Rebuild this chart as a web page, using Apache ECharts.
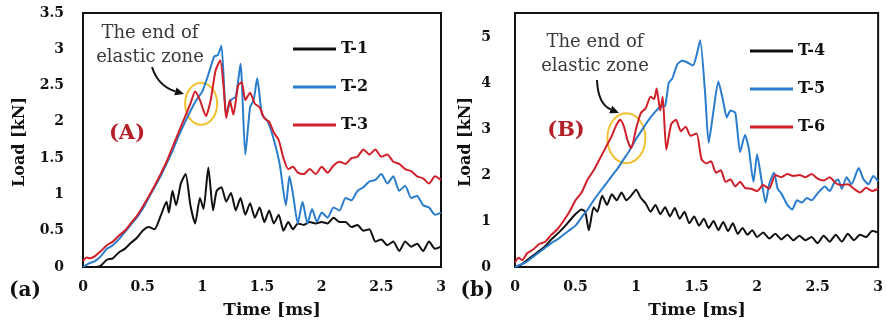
<!DOCTYPE html>
<html>
<head>
<meta charset="utf-8">
<script src="https://cdn.jsdelivr.net/npm/echarts@6/dist/echarts.min.js"></script>
<style>
html,body{margin:0;padding:0;background:#fff;}
#chart{width:886px;height:326px;}
</style>
</head>
<body>
<div id="chart"></div>
<script>
// ---- Data (time [ms], load [kN]) ----
const xTicksLeft = [0, 0.5, 1, 1.5, 2, 2.5, 3];
const yTicksLeft = [0, 0.5, 1, 1.5, 2, 2.5, 3, 3.5];
const yTicksRight = [0, 1, 2, 3, 4, 5];
const legendLeft = ['T-1', 'T-2', 'T-3'];
const legendRight = ['T-4', 'T-5', 'T-6'];

const T1 = [[0,0],[0.05,0],[0.1,0],[0.15,0.02],[0.2,0.1],[0.25,0.12],[0.3,0.2],[0.35,0.25],[0.4,0.33],[0.45,0.4],[0.5,0.5],[0.55,0.55],[0.6,0.52],[0.65,0.7],[0.7,0.9],[0.72,0.75],[0.75,1.05],[0.78,0.85],[0.82,1.15],[0.86,1.28],[0.9,0.85],[0.94,0.6],[0.98,0.95],[1.01,0.8],[1.05,1.37],[1.09,0.78],[1.12,1.05],[1.16,1.1],[1.2,0.9],[1.24,1.02],[1.28,0.78],[1.32,0.95],[1.36,0.72],[1.4,0.88],[1.44,0.68],[1.48,0.82],[1.52,0.62],[1.56,0.78],[1.6,0.6],[1.64,0.72],[1.68,0.5],[1.72,0.62],[1.76,0.52],[1.8,0.6],[1.85,0.58],[1.9,0.62],[1.95,0.6],[2.0,0.62],[2.05,0.6],[2.1,0.68],[2.15,0.62],[2.2,0.62],[2.25,0.55],[2.3,0.58],[2.35,0.5],[2.4,0.52],[2.45,0.35],[2.5,0.38],[2.55,0.3],[2.6,0.35],[2.65,0.22],[2.7,0.35],[2.75,0.28],[2.8,0.32],[2.85,0.22],[2.9,0.35],[2.95,0.25],[3.0,0.28]];
const T2 = [[0,0],[0.05,0.05],[0.1,0.08],[0.15,0.15],[0.2,0.25],[0.25,0.3],[0.3,0.38],[0.35,0.48],[0.4,0.58],[0.45,0.68],[0.5,0.8],[0.55,0.95],[0.6,1.1],[0.65,1.25],[0.7,1.42],[0.75,1.6],[0.8,1.8],[0.85,1.98],[0.9,2.15],[0.95,2.3],[1.0,2.42],[1.05,2.65],[1.1,2.9],[1.13,2.92],[1.16,3.05],[1.2,2.1],[1.24,2.3],[1.28,2.35],[1.32,2.8],[1.36,1.55],[1.4,2.2],[1.43,2.3],[1.46,2.6],[1.5,2.1],[1.55,2.0],[1.6,1.75],[1.65,1.4],[1.7,0.85],[1.73,1.25],[1.76,1.0],[1.8,0.6],[1.84,0.9],[1.88,0.6],[1.92,0.8],[1.96,0.62],[2.0,0.75],[2.05,0.68],[2.1,0.82],[2.15,0.78],[2.2,0.95],[2.25,0.92],[2.3,1.05],[2.35,1.1],[2.4,1.18],[2.45,1.2],[2.5,1.28],[2.55,1.15],[2.6,1.25],[2.65,1.05],[2.7,1.12],[2.75,0.95],[2.8,0.98],[2.85,0.85],[2.9,0.82],[2.95,0.72],[3.0,0.75]];
const T3 = [[0,0.08],[0.03,0.13],[0.06,0.12],[0.1,0.15],[0.15,0.22],[0.2,0.3],[0.25,0.35],[0.3,0.43],[0.35,0.5],[0.4,0.6],[0.45,0.7],[0.5,0.83],[0.55,0.97],[0.6,1.12],[0.65,1.28],[0.7,1.45],[0.75,1.65],[0.8,1.85],[0.85,2.05],[0.9,2.25],[0.94,2.42],[0.98,2.3],[1.03,2.08],[1.07,2.3],[1.11,2.7],[1.15,2.85],[1.18,2.45],[1.2,2.05],[1.23,2.3],[1.26,2.1],[1.3,2.5],[1.33,2.55],[1.36,2.3],[1.4,2.4],[1.44,2.25],[1.48,2.2],[1.52,2.05],[1.56,2.0],[1.6,1.85],[1.64,1.75],[1.68,1.5],[1.72,1.35],[1.76,1.38],[1.8,1.3],[1.85,1.28],[1.9,1.35],[1.95,1.28],[2.0,1.38],[2.05,1.3],[2.1,1.4],[2.15,1.45],[2.2,1.42],[2.25,1.5],[2.3,1.52],[2.35,1.62],[2.4,1.55],[2.45,1.62],[2.5,1.52],[2.55,1.55],[2.6,1.45],[2.65,1.42],[2.7,1.35],[2.75,1.32],[2.8,1.25],[2.85,1.22],[2.9,1.15],[2.95,1.25],[3.0,1.2]];
const T4 = [[0,0],[0.05,0.05],[0.1,0.15],[0.15,0.25],[0.2,0.35],[0.25,0.45],[0.3,0.6],[0.35,0.72],[0.4,0.85],[0.45,1.0],[0.5,1.15],[0.55,1.25],[0.58,1.2],[0.61,0.8],[0.65,1.3],[0.68,1.2],[0.72,1.55],[0.76,1.35],[0.8,1.58],[0.84,1.45],[0.88,1.62],[0.92,1.45],[0.96,1.55],[1.0,1.68],[1.04,1.5],[1.08,1.38],[1.12,1.2],[1.16,1.35],[1.2,1.15],[1.24,1.3],[1.28,1.1],[1.32,1.28],[1.36,1.05],[1.4,1.2],[1.44,0.95],[1.48,1.1],[1.52,0.9],[1.56,1.05],[1.6,0.85],[1.64,1.0],[1.68,0.8],[1.72,0.98],[1.76,0.78],[1.8,0.95],[1.84,0.72],[1.88,0.85],[1.92,0.7],[1.96,0.8],[2.0,0.65],[2.05,0.75],[2.1,0.62],[2.15,0.72],[2.2,0.6],[2.25,0.7],[2.3,0.58],[2.35,0.68],[2.4,0.58],[2.45,0.65],[2.5,0.52],[2.55,0.68],[2.6,0.55],[2.65,0.7],[2.7,0.55],[2.75,0.72],[2.8,0.58],[2.85,0.7],[2.9,0.65],[2.95,0.78],[3.0,0.75]];
const T5 = [[0,0],[0.05,0.05],[0.1,0.12],[0.15,0.22],[0.2,0.32],[0.25,0.42],[0.3,0.52],[0.35,0.6],[0.4,0.7],[0.45,0.8],[0.5,0.9],[0.55,1.08],[0.6,1.25],[0.65,1.45],[0.7,1.63],[0.75,1.8],[0.8,1.98],[0.85,2.15],[0.9,2.35],[0.95,2.55],[1.0,2.78],[1.05,2.98],[1.1,3.18],[1.15,3.35],[1.2,3.48],[1.24,3.5],[1.27,4.0],[1.3,4.1],[1.34,4.4],[1.38,4.48],[1.42,4.45],[1.47,4.38],[1.5,4.6],[1.53,4.93],[1.57,3.8],[1.6,2.7],[1.64,3.4],[1.68,4.03],[1.72,3.6],[1.75,3.25],[1.78,3.4],[1.82,3.35],[1.86,2.5],[1.9,2.87],[1.93,2.6],[1.97,1.85],[2.0,2.45],[2.03,2.0],[2.07,1.4],[2.1,1.8],[2.14,2.05],[2.17,1.7],[2.2,1.6],[2.25,1.35],[2.29,1.25],[2.33,1.45],[2.37,1.4],[2.41,1.5],[2.45,1.45],[2.5,1.6],[2.56,1.75],[2.6,1.65],[2.64,1.85],[2.67,1.9],[2.7,1.7],[2.74,1.95],[2.78,1.8],[2.84,2.15],[2.88,1.9],[2.92,1.8],[2.96,1.98],[3.0,1.86]];
const T6 = [[0,0.1],[0.03,0.2],[0.06,0.15],[0.1,0.3],[0.15,0.38],[0.2,0.5],[0.25,0.55],[0.3,0.7],[0.35,0.82],[0.4,1.0],[0.45,1.2],[0.5,1.45],[0.55,1.62],[0.6,1.9],[0.65,2.1],[0.7,2.35],[0.75,2.6],[0.8,2.85],[0.84,3.1],[0.87,3.2],[0.9,3.05],[0.93,2.75],[0.96,2.58],[1.0,3.0],[1.04,3.35],[1.08,3.45],[1.12,3.7],[1.15,3.65],[1.17,3.88],[1.2,3.4],[1.22,3.7],[1.25,2.55],[1.29,3.1],[1.33,3.2],[1.37,2.95],[1.41,3.05],[1.45,2.85],[1.5,2.9],[1.54,2.35],[1.58,2.25],[1.62,2.3],[1.66,2.05],[1.7,2.1],[1.74,1.85],[1.78,1.9],[1.82,1.75],[1.86,1.85],[1.9,1.72],[1.95,1.7],[2.0,1.65],[2.05,1.78],[2.1,1.7],[2.15,2.0],[2.2,1.95],[2.25,2.02],[2.3,1.98],[2.35,2.0],[2.4,1.95],[2.45,2.02],[2.5,1.92],[2.55,1.88],[2.6,1.95],[2.65,1.82],[2.7,1.78],[2.75,1.8],[2.8,1.7],[2.85,1.62],[2.9,1.72],[2.95,1.65],[3.0,1.7]];

// elastic-zone annotation centres (data coords)
const ellipseLeft = [0.99, 2.25];
const ellipseRight = [0.92, 2.8];

// ---- Chart ----
const FONT = 'DejaVu Serif';
const BLACK = '#111111', BLUE = '#2a7dcc', RED = '#d11f29', DARKRED = '#b3202a';
const chart = echarts.init(document.getElementById('chart'), null, {renderer: 'canvas'});

function xAxis(gridIndex) {
  return {
    type: 'value', gridIndex, min: 0, max: 3, interval: 0.5,
    axisLine: {show: true, onZero: false, lineStyle: {color: '#111', width: 2}},
    axisTick: {show: false}, splitLine: {show: false},
    axisLabel: {margin: 13, fontFamily: FONT, fontWeight: 'bold', fontSize: 14, color: '#111'}
  };
}
function yAxis(gridIndex, max, interval, margin) {
  return {
    type: 'value', gridIndex, min: 0, max, interval,
    axisLine: {show: true, lineStyle: {color: '#111', width: 2}},
    axisTick: {show: false}, splitLine: {show: false},
    axisLabel: {margin, fontFamily: FONT, fontWeight: 'bold', fontSize: 14, color: '#111',
      formatter: v => (Math.abs(v / interval - Math.round(v / interval)) < 1e-6) ? String(+v.toFixed(2)) : ''}
  };
}
function line(name, data, color, idx) {
  return {
    name, type: 'line', data, xAxisIndex: idx, yAxisIndex: idx,
    showSymbol: false, symbol: 'none', smooth: 0.2,
    lineStyle: {color, width: 2}, itemStyle: {color}, animation: false
  };
}
function legend(data, left, top) {
  return {
    data, orient: 'vertical', left, top, padding: 0, icon: 'rect', itemWidth: 43, itemHeight: 3, itemGap: 18,
    textStyle: {fontFamily: FONT, fontWeight: 'bold', fontSize: 16, color: '#111', lineHeight: 20},
    selectedMode: false
  };
}
function txt(text, x, y, size, weight, color, extra) {
  return Object.assign({
    type: 'text', x, y, silent: true,
    style: {text, fontFamily: FONT, fontSize: size, fontWeight: weight, fill: color,
      align: 'center', verticalAlign: 'middle', lineHeight: 24}
  }, extra || {});
}
function arrow(x1, y1, cx, cy, x2, y2) {
  const dx = x2 - cx, dy = y2 - cy, L = Math.hypot(dx, dy);
  const ux = dx / L, uy = dy / L, len = 9, w = 4;
  const bx = x2 - ux * len, by = y2 - uy * len;
  return [
    {type: 'bezierCurve', silent: true, shape: {x1, y1, x2: bx, y2: by, cpx1: cx, cpy1: cy},
      style: {stroke: '#111', lineWidth: 2, fill: null}},
    {type: 'polygon', silent: true, shape: {points: [[x2, y2], [bx - uy * w, by + ux * w], [bx + uy * w, by - ux * w]]},
      style: {fill: '#111'}}
  ];
}

const option = {
  backgroundColor: '#ffffff',
  animation: false,
  grid: [
    {left: 83, top: 13, width: 358, height: 254, show: true, borderColor: '#111', borderWidth: 2, containLabel: false},
    {left: 515, top: 13, width: 365, height: 254, show: true, borderColor: '#111', borderWidth: 2, containLabel: false}
  ],
  xAxis: [xAxis(0), xAxis(1)],
  yAxis: [yAxis(0, 3.5, 0.5, 19), yAxis(1, 5.52, 1, 24)],
  legend: [legend(legendLeft, 293, 39), legend(legendRight, 750, 41)],
  series: [
    line('T-1', T1, BLACK, 0), line('T-2', T2, BLUE, 0), line('T-3', T3, RED, 0),
    line('T-4', T4, BLACK, 1), line('T-5', T5, BLUE, 1), line('T-6', T6, RED, 1)
  ],
  graphic: []
};
chart.setOption(option);

const pL = chart.convertToPixel({gridIndex: 0}, ellipseLeft);
const pR = chart.convertToPixel({gridIndex: 1}, ellipseRight);

const graphics = [
  txt('Load [kN]', 20, 142, 16, 'bold', '#111', {rotation: Math.PI / 2}),
  txt('Load [kN]', 466, 142, 16, 'bold', '#111', {rotation: Math.PI / 2}),
  txt('Time [ms]', 272, 311, 17, 'bold', '#111'),
  txt('Time [ms]', 697, 311, 17, 'bold', '#111'),
  txt('(a)', 25, 291, 20, 'bold', '#111'),
  txt('(b)', 477, 291, 20, 'bold', '#111'),
  txt('(A)', 127, 134, 21, 'bold', DARKRED),
  txt('(B)', 566, 131, 21, 'bold', DARKRED),
  txt('The end of\nelastic zone', 150, 45, 18, 'normal', '#3a3a3a'),
  txt('The end of\nelastic zone', 595, 54, 18, 'normal', '#3a3a3a'),
  {type: 'ellipse', silent: true, shape: {cx: pL[0], cy: pL[1], rx: 16, ry: 21},
    style: {stroke: '#f2c12e', lineWidth: 2, fill: null}},
  {type: 'ellipse', silent: true, shape: {cx: pR[0], cy: pR[1], rx: 19, ry: 25},
    style: {stroke: '#f2c12e', lineWidth: 2, fill: null}}
].concat(arrow(152, 67, 158, 86, 184, 94)).concat(arrow(597, 80, 598, 104, 619, 113));

chart.setOption({graphic: graphics});
</script>
</body>
</html>
